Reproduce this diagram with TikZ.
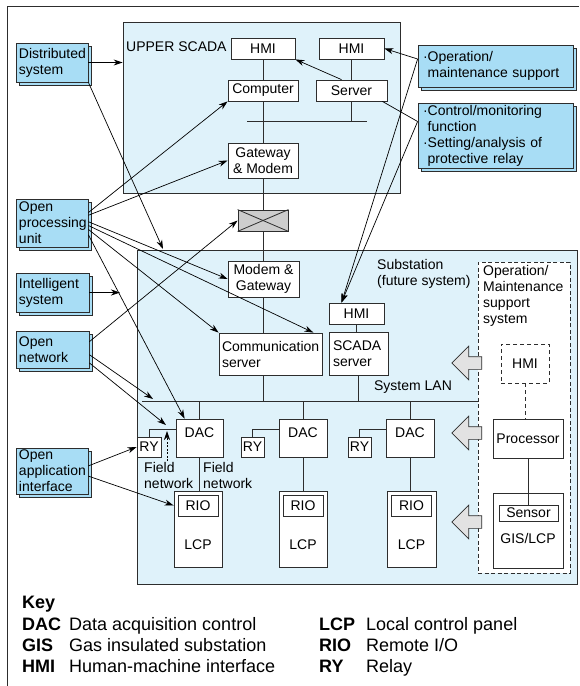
\documentclass[tikz,border=0pt]{standalone}
\usepackage{fontspec}
\setmainfont{Liberation Sans}
\usetikzlibrary{arrows.meta, shapes.arrows, shadows}
\definecolor{lineGray}{RGB}{45,45,45}
\definecolor{boxBlue}{RGB}{168,221,245}
\definecolor{subBlue}{RGB}{223,242,250}
\definecolor{xGray}{RGB}{205,205,205}
\definecolor{arrGray}{RGB}{226,226,226}
\tikzstyle{arrow} = [-{Stealth[length=9pt,width=6pt]}, draw=black, line width=0.7pt]
\tikzstyle{wire} = [draw=lineGray, line width=0.8pt]
\tikzstyle{mBox} = [draw=lineGray, fill=white, line width=0.8pt, inner sep=0pt, align=center]
\tikzstyle{mBlue} = [draw=lineGray, fill=boxBlue, line width=0.8pt, inner sep=0pt, inner xsep=3pt, align=left, copy shadow={shadow xshift=3pt, shadow yshift=-3pt}]
\tikzstyle{mArea} = [draw=lineGray, fill=subBlue, line width=0.8pt, inner sep=0pt]
\tikzstyle{opsArea} = [draw=lineGray, fill=white, line width=0.7pt, dash pattern=on 4pt off 2.5pt, inner sep=0pt]
\tikzstyle{bigArrow} = [single arrow, draw=lineGray, fill=arrGray, line width=0.7pt, shape border rotate=180, minimum height=30pt, minimum width=33pt, inner sep=6pt, single arrow head extend=10.5pt]
\tikzstyle{mText} = [inner sep=0pt, align=left]
\tikzstyle{keyAbbr} = [inner sep=0pt, anchor=base west, font=\fontsize{18pt}{21pt}\selectfont\bfseries]
\tikzstyle{keyText} = [inner sep=0pt, anchor=base west, font=\fontsize{18pt}{21pt}\selectfont]

\begin{document}
\begin{tikzpicture}[x=1pt, y=-1pt, font=\fontsize{14pt}{16pt}\selectfont]
\useasboundingbox (0,0) rectangle (579,686);
\draw[wire] (7,686) -- (7,6) -- (579,6);

\node[mArea, minimum width=277pt, minimum height=171pt] (upper) at (261.5,107.5) {};
\node[mArea, minimum width=440pt, minimum height=334pt] (sub) at (357,417) {};
\node[opsArea, minimum width=92pt, minimum height=311pt] (ops) at (524,417.5) {};

\node[mText, anchor=west] (upLbl) at (126,47) {UPPER SCADA};
\node[mText, anchor=west] (subLbl) at (377,273.5) {Substation\\(future system)};
\node[mText] (lanLbl) at (413,387) {System LAN};
\node[mText, anchor=west] (opsLbl) at (483,296) {Operation/\\Maintenance\\support\\system};
\node[mText, anchor=west] (fieldA) at (144,475) {Field\\network};
\node[mText, anchor=west] (fieldB) at (203,475) {Field\\network};

\node[mBox, minimum width=64pt, minimum height=21pt] (hmiA) at (263,48.5) {HMI};
\node[mBox, minimum width=65pt, minimum height=21pt] (hmiB) at (351.5,48.5) {HMI};
\node[mBox, minimum width=70pt, minimum height=21pt] (comp) at (263,90.5) {Computer};
\node[mBox, minimum width=71pt, minimum height=21pt] (server) at (351.5,90.5) {Server};
\node[mBox, minimum width=70pt, minimum height=35pt] (gw) at (263,160.5) {Gateway\\\& Modem};
\node[mBox, fill=xGray, minimum width=50pt, minimum height=21pt] (xbox) at (263,220.5) {};
\coordinate (busL) at (247,121);
\coordinate (busR) at (367,121);

\node[mBox, minimum width=71pt, minimum height=36pt] (mg) at (263.5,279) {Modem \&\\Gateway};
\node[mBox, align=left, inner xsep=3pt, text width=97pt, minimum height=42pt] (comsrv) at (270.5,354) {Communication\\server};
\node[mBox, minimum width=55pt, minimum height=21pt] (hmiS) at (356.5,313.5) {HMI};
\node[mBox, align=left, inner xsep=4pt, text width=51pt, minimum height=43pt] (scsrv) at (358.5,353.5) {SCADA\\server};
\coordinate (lanL) at (142,401);
\coordinate (lanR) at (478,401);

\node[mBox, minimum width=47pt, minimum height=38pt, text depth=10pt] (dac1) at (199.5,438) {DAC};
\node[mBox, minimum width=48pt, minimum height=38pt, text depth=10pt] (dac2) at (303,438) {DAC};
\node[mBox, minimum width=48pt, minimum height=38pt, text depth=10pt] (dac3) at (410,438) {DAC};
\node[mBox, minimum width=24pt, minimum height=20pt] (ry1) at (149,447) {RY};
\node[mBox, minimum width=23pt, minimum height=20pt] (ry2) at (252.5,447) {RY};
\node[mBox, minimum width=23pt, minimum height=20pt] (ry3) at (359.5,447) {RY};

\node[mBox, minimum width=48pt, minimum height=76pt, label={[anchor=south, yshift=14pt]south:LCP}] (lcp1) at (198,529) {};
\node[mBox, minimum width=48pt, minimum height=76pt, label={[anchor=south, yshift=14pt]south:LCP}] (lcp2) at (303,529) {};
\node[mBox, minimum width=49pt, minimum height=76pt, label={[anchor=south, yshift=14pt]south:LCP}] (lcp3) at (411.5,529) {};
\node[mBox, minimum width=40pt, minimum height=21pt] (rio1) at (198,505.5) {RIO};
\node[mBox, minimum width=40pt, minimum height=21pt] (rio2) at (303,505.5) {RIO};
\node[mBox, minimum width=40pt, minimum height=21pt] (rio3) at (411.5,505.5) {RIO};

\node[mBox, dash pattern=on 4pt off 3pt, minimum width=48pt, minimum height=39pt] (hmiD) at (525,363.5) {HMI};
\node[mBox, minimum width=70pt, minimum height=39pt] (proc) at (528,438.5) {Processor};
\node[mBox, minimum width=70pt, minimum height=75pt, label={[anchor=south, yshift=21pt]south:GIS/LCP}] (gis) at (528,530.5) {};
\node[mBox, minimum width=59pt, minimum height=16pt] (sensor) at (528.5,513) {Sensor};

\node[bigArrow] (bArr1) at (470,363) {};
\node[bigArrow] (bArr2) at (470,433) {};
\node[bigArrow] (bArr3) at (470,522) {};

\node[mBlue, text width=66pt, minimum height=39pt] (dist) at (52,62.5) {Distributed\\system};
\node[mBlue, text width=66pt, minimum height=48pt] (opu) at (52,223) {Open\\processing\\unit};
\node[mBlue, text width=67pt, minimum height=39pt] (intel) at (52.5,292.5) {Intelligent\\system};
\node[mBlue, text width=67pt, minimum height=37pt] (onet) at (52.5,349.5) {Open\\network};
\node[mBlue, text width=66pt, minimum height=46pt] (oai) at (52,471) {Open\\application\\interface};
\node[mBlue, inner xsep=5pt, text width=145pt, minimum height=42pt] (omsup) at (495.5,66) {·Operation/\\\hphantom{·}maintenance support};
\node[mBlue, inner xsep=5pt, text width=145pt, minimum height=65pt] (ctrl) at (495.5,135.5) {·Control/monitoring\\\hphantom{·}function\\·Setting/analysis of\\\hphantom{·}protective relay};

\draw[wire] (hmiA.south) -- (comp.north);
\draw[wire] (comp.south) -- (gw.north);
\draw[wire] (hmiB.south) -- (server.north);
\draw[wire] (server.south) -- (server.south |- busR);
\draw[wire] (busL) -- (busR);
\draw[wire] (gw.south) -- (xbox.north);
\draw[wire] (xbox.south) -- (mg.south |- xbox.south) -- (mg.north);
\draw[wire] (xbox.north west) -- (xbox.south east);
\draw[wire] (xbox.south west) -- (xbox.north east);
\draw[wire] (mg.south) -- (mg.south |- comsrv.north);
\draw[wire] (mg.south |- comsrv.south) -- (mg.south |- lanL);
\draw[wire] (hmiS.south) -- (hmiS.south |- scsrv.north);
\draw[wire] (scsrv.south) -- (scsrv.south |- lanL);
\draw[wire] (lanL) -- (lanR);
\draw[wire] (dac1.north |- lanL) -- (dac1.north);
\draw[wire] (dac2.north |- lanL) -- (dac2.north);
\draw[wire] (dac3.north |- lanL) -- (dac3.north);
\draw[wire] (ry1.north) |- ([yshift=9pt]dac1.west);
\draw[wire] (ry2.north) |- ([yshift=9pt]dac2.west);
\draw[wire] (ry3.north) |- ([yshift=9pt]dac3.west);
\draw[wire] (dac1.south) -- (dac1.south |- lcp1.north);
\draw[wire] (dac2.south) -- (lcp2.north);
\draw[wire] (dac3.south) -- (dac3.south |- lcp3.north);
\draw[wire, dash pattern=on 4pt off 3pt] (hmiD.south) -- (hmiD.south |- proc.north);
\draw[wire] (proc.south) -- (proc.south |- sensor.north);

\coordinate (fnS) at (167,461);
\coordinate (fnT) at (167,431);
\coordinate (subTop) at (163,249);
\coordinate (intelT) at (120,292.5);
\coordinate (lanA) at (153,399);
\coordinate (ryLink) at (166,425);

\draw[arrow, line width=0.6pt, dash pattern=on 2pt off 1.5pt] (fnS) -- (fnT);
\draw[arrow] (dist.east) -- (dist.east -| upper.west);
\draw[arrow] (dist.south east) -- (subTop);
\draw[arrow] (opu.16) -- (comp.south west);
\draw[arrow] (opu.12) -- (gw.west);
\draw[arrow] (opu.2) -- (mg.west);
\draw[arrow] (opu.356) -- ([xshift=-9pt]comsrv.north east);
\draw[arrow] (opu.350) -- (comsrv.north west);
\draw[arrow] (opu.342) -- ([xshift=9pt]dac1.north west);
\draw[arrow] (intel.east) -- (intelT);
\draw[arrow] (onet.12) -- (xbox.west);
\draw[arrow] (onet.352) -- (lanA);
\draw[arrow] (onet.340) -- (ryLink);
\draw[arrow] (oai.8) -- (ry1.west);
\draw[arrow] (oai.352) -- (rio1 -| lcp1.west);
\draw[arrow] ([xshift=-10pt]server.north) -- (hmiA.south east);
\draw[arrow] ([yshift=7pt]omsup.west) -- (hmiB.east);
\draw[arrow] ([yshift=7pt]omsup.west) -- ([xshift=-15pt]hmiS.north);
\draw[arrow] ([yshift=14pt]ctrl.west) -- ([xshift=-15pt]hmiS.north);
\draw[wire, draw=black, line width=0.7pt] ([yshift=14pt]ctrl.west) -- ([xshift=-5pt]server.south east);

\node[keyAbbr] (keyLbl) at (22,608.5) {Key};
\foreach \ab/\txt/\y [count=\i] in {DAC/{Data acquisition control}/630.5, GIS/{Gas insulated substation}/651.5, HMI/{Human-machine interface}/672.5}
{
  \node[keyAbbr] (kA\i) at (22,\y) {\ab};
  \node[keyText] (kT\i) at (69,\y) {\txt};
}
\foreach \ab/\txt/\y [count=\i] in {LCP/{Local control panel}/630.5, RIO/{Remote I/O}/651.5, RY/{Relay}/672.5}
{
  \node[keyAbbr] (kB\i) at (319,\y) {\ab};
  \node[keyText] (kU\i) at (366,\y) {\txt};
}
\end{tikzpicture}
\end{document}
